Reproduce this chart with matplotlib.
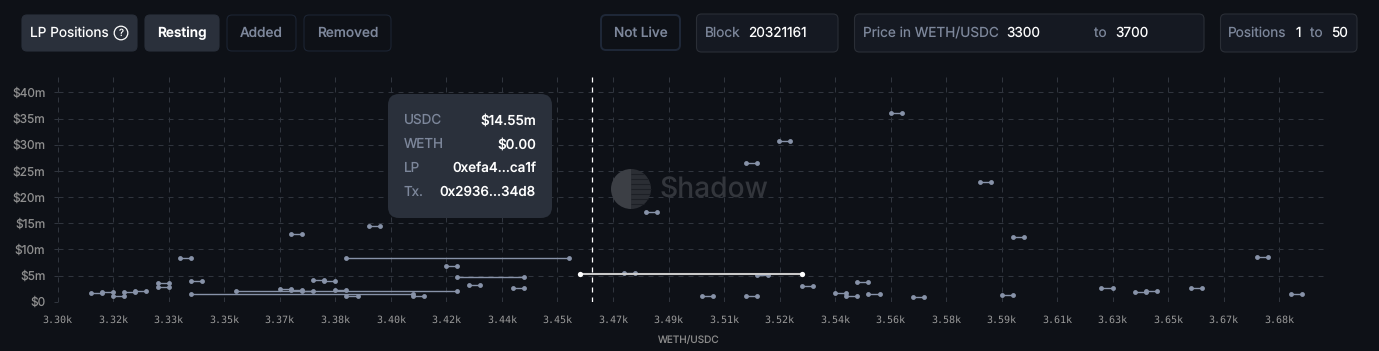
"""LP positions range chart, with the dashboard controls drawn above it."""

import matplotlib
matplotlib.use("Agg")
import matplotlib.pyplot as plt
from matplotlib.patches import FancyBboxPatch, Circle, Wedge

# resting positions: lower price, upper price, size in $m
range_lo = [3310.4, 3313.9, 3317.4, 3320.9, 3324.3, 3331.3, 3331.3, 3338.3, 3341.7, 3341.7,
            3355.7, 3369.6, 3373.0, 3373.0, 3376.5, 3380.0, 3383.5, 3387.0, 3390.4, 3390.4,
            3397.4, 3411.3, 3421.7, 3425.2, 3428.7, 3442.6, 3477.4, 3484.3, 3501.7, 3515.7,
            3515.7, 3519.1, 3526.0, 3533.0, 3543.5, 3546.9, 3550.4, 3553.9, 3560.9, 3567.8,
            3588.7, 3595.7, 3599.1, 3626.9, 3637.4, 3640.9, 3654.8, 3675.7, 3686.1]
range_hi = [3313.9, 3317.4, 3320.9, 3324.3, 3327.8, 3334.8, 3334.8, 3341.7, 3345.2, 3411.3,
            3425.2, 3373.0, 3376.5, 3376.5, 3380.0, 3383.5, 3387.0, 3390.4, 3393.9, 3460.0,
            3400.9, 3414.8, 3425.2, 3446.1, 3432.2, 3446.1, 3480.9, 3487.8, 3505.2, 3519.1,
            3519.1, 3522.6, 3529.5, 3536.5, 3546.9, 3550.4, 3553.9, 3557.4, 3564.3, 3571.3,
            3592.2, 3599.1, 3602.6, 3630.4, 3640.9, 3644.3, 3658.3, 3679.1, 3689.6]
range_usd = [1.72, 1.85, 1.09, 1.85, 2.04, 3.5, 2.8, 8.3, 4.0, 1.53,
             1.99, 2.43, 2.3, 13.0, 2.1, 4.1, 3.95, 2.18, 1.09, 8.3,
             14.55, 1.03, 6.88, 4.66, 3.13, 2.67, 5.54, 17.14, 1.09, 1.03,
             26.56, 5.1, 30.7, 3.0, 1.6, 1.03, 3.76, 1.41, 36.05, 0.96,
             22.87, 1.34, 12.36, 2.62, 1.91, 2.1, 2.56, 8.54, 1.41]

# position under the cursor
hover_lo, hover_hi, hover_usd = 3463.5, 3533.0, 5.35
current_price = 3467.4

x_ticks = [3300 + i * 400 / 23 for i in range(23)]
x_labels = ["3.30k", "3.32k", "3.33k", "3.35k", "3.37k", "3.38k", "3.40k", "3.42k",
            "3.44k", "3.45k", "3.47k", "3.49k", "3.51k", "3.52k", "3.54k", "3.56k",
            "3.58k", "3.59k", "3.61k", "3.63k", "3.65k", "3.67k", "3.68k"]
y_ticks = [0, 5, 10, 15, 20, 25, 30, 35, 40]
y_labels = ["$0", "$5m", "$10m", "$15m", "$20m", "$25m", "$30m", "$35m", "$40m"]

tooltip_keys = ["USDC", "WETH", "LP", "Tx."]
tooltip_values = ["$14.55m", "$0.00", "0xefa4...ca1f", "0x2936...34d8"]

BG = "#0e1117"
PANEL = "#2a303b"
GRID = "#30353e"
MUTED = "#7d879b"
DOT = "#8792a8"
W, H = 1379, 351

plt.rcParams["font.family"] = ["Inter", "DejaVu Sans"]
plt.rcParams["text.hinting"] = "no_hinting"
plt.rcParams["text.hinting_factor"] = 1

fig = plt.figure(figsize=(W / 100, H / 100), dpi=100, facecolor=BG)

# chart axes, placed by pixel box
left, right, top, bottom = 57.7, 1325, 76, 301.7
ax = fig.add_axes([left / W, 1 - bottom / H, (right - left) / W, (bottom - top) / H])
ax.set_facecolor(BG)
ax.set_xlim(3300, 3300 + (right - left) * (400 / 23) / 55.53)
ax.set_ylim(0, (bottom - top) / 5.234)
for s in ax.spines.values():
    s.set_visible(False)

dash = (0, (5, 5))
ax.set_xticks(x_ticks, x_labels, family="DejaVu Sans Mono", fontsize=7.2, color="#9a9a9a")
ax.set_yticks(y_ticks, y_labels, fontsize=8.6, color="#8f8f8f")
ax.tick_params(axis="x", length=0, pad=9.6)
ax.tick_params(axis="y", length=2.7, width=0.72, color=GRID, pad=6.2)
ax.grid(True, color=GRID, linewidth=0.72, linestyle=dash, zorder=0)
ax.set_axisbelow(True)
ax.set_xlabel("WETH/USDC", fontsize=7.2, color="#8a8a8a", labelpad=7.8, x=0.498)

ax.hlines(range_usd, range_lo, range_hi, color=DOT, linewidth=1.0, zorder=3)
ax.plot(range_lo + range_hi, range_usd + range_usd, "o", color=DOT, markersize=3.5,
        markeredgewidth=0, linestyle="none", zorder=4)

ax.axvline(current_price, color="white", linewidth=0.9, linestyle=(0, (4, 4)), zorder=5)

ax.hlines([hover_usd], [hover_lo], [hover_hi], color="#c9c9c9", linewidth=1.5, zorder=5)
ax.plot([hover_lo, hover_hi], [hover_usd, hover_usd], "o", color="white", markersize=3.8,
        markeredgewidth=0, linestyle="none", zorder=6)

# overlay in pixel coordinates for the controls, tooltip and watermark
ui = fig.add_axes([0, 0, 1, 1], facecolor="none")
ui.set_xlim(0, W)
ui.set_ylim(H, 0)
ui.axis("off")


def box(x0, x1, y0, y1, face, edge, r=5, lw=0.8):
    ui.add_patch(FancyBboxPatch((x0 + r, y0 + r), x1 - x0 - 2 * r, y1 - y0 - 2 * r,
                                boxstyle=f"round,pad={r},rounding_size={r}",
                                facecolor=face, edgecolor=edge, linewidth=lw, zorder=2))


def label(x, y, s, color="white", size=9.8, ha="left", **kw):
    ui.text(x, y, s, color=color, fontsize=size, ha=ha, va="center", zorder=8, **kw)


box(22, 137, 15, 51, PANEL, PANEL)
label(30, 33.5, "LP Positions")
ui.add_patch(Circle((121, 33), 6.8, facecolor="none", edgecolor="white", linewidth=0.9, zorder=8))
label(121, 33.5, "?", size=7, ha="center")

box(145, 219, 15, 51, PANEL, PANEL)
label(182, 33.5, "Resting", ha="center", fontweight="semibold")
box(227, 296, 15, 51, BG, "#1c2433")
label(261.5, 33.5, "Added", color=MUTED, ha="center", fontweight="medium")
box(304, 391, 15, 51, BG, "#1c2433")
label(347.5, 33.5, "Removed", color=MUTED, ha="center", fontweight="medium")

box(601, 680, 15, 50, BG, "#1f2838", lw=1.4)
label(640.5, 33.5, "Not Live", color=MUTED, ha="center", fontweight="medium")

box(696.5, 838, 14, 52, "#151922", "#2a2e36")
label(705, 33.5, "Block", color=MUTED)
label(748, 33.5, "20321161")
box(854.5, 1204, 14, 52, "#151922", "#2a2e36")
label(863, 33.5, "Price in WETH/USDC", color=MUTED)
label(1006, 33.5, "3300")
label(1094, 33.5, "to", color=MUTED)
label(1115, 33.5, "3700")
box(1220.5, 1357, 14, 52, "#151922", "#2a2e36")
label(1228, 33.5, "Positions", color=MUTED)
label(1296, 33.5, "1")
label(1310, 33.5, "to", color=MUTED)
label(1331, 33.5, "50")

# watermark
ui.add_patch(Wedge((631, 189), 20, 90, 270, facecolor="#3c3f45", edgecolor="none", zorder=1))
ui.add_patch(Wedge((631, 189), 20, 270, 90, facecolor="#2b2e34", edgecolor="none", zorder=1))
for dy in range(-15, 18, 5):
    half = (20 ** 2 - dy ** 2) ** 0.5
    ui.plot([631, 631 + half], [189 + dy, 189 + dy], color="#1d2026", linewidth=0.8, zorder=1,
            solid_capstyle="butt")
ui.text(660, 190, "Shadow", color="#33363c", fontsize=20.3, fontweight="medium", ha="left",
        va="center", zorder=1)

# tooltip
box(388, 552, 94, 218, PANEL, PANEL, r=11, lw=0)
for i, (k, v) in enumerate(zip(tooltip_keys, tooltip_values)):
    y = 120.5 + i * 24
    label(404, y, k, color=MUTED, size=9.7)
    label(536, y, v, size=9.7, ha="right", fontweight="medium")

fig.savefig("out.png", dpi=100, facecolor=BG)
plt.close(fig)
